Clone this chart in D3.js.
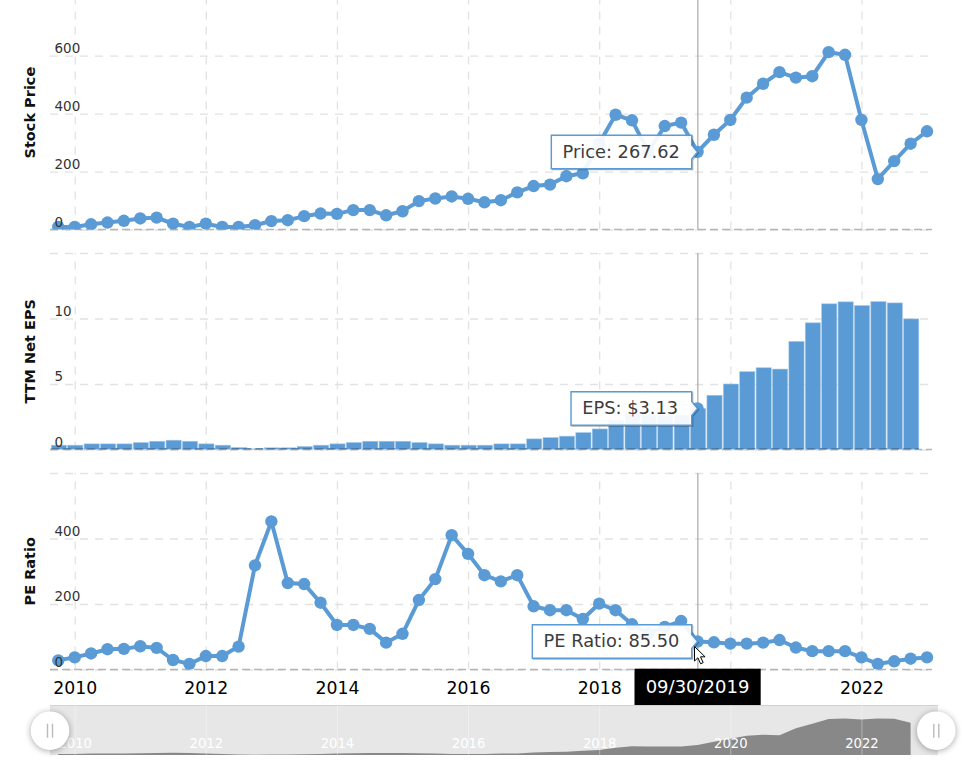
<!DOCTYPE html>
<html>
<head>
<meta charset="utf-8">
<style>
html, body { margin: 0; padding: 0; background: #fff; }
svg { display: block; font-family: "DejaVu Sans", Verdana, sans-serif; }
.grid line { stroke: #e2e2e2; stroke-width: 1.3; stroke-dasharray: 8 7; }
.grid path { display: none; }
.base { stroke: #b5b5b5; stroke-width: 1.3; stroke-dasharray: 8 4; }
</style>
<script src="https://cdnjs.cloudflare.com/ajax/libs/d3/7.8.5/d3.min.js"></script>
</head>
<body>
<div id="chart"></div>
<script>
let price = [9, 9, 18, 24, 30, 38, 41, 20, 9, 20, 9, 9, 15, 29, 32, 46, 55, 54, 67, 67, 49, 63, 98, 107, 114, 106,
    94, 101, 128, 150, 155, 184, 194, 297, 396, 377, 268, 357, 369, 267.62, 327, 378, 455, 503, 543, 524, 529, 612, 603, 378, 174, 236, 296, 339];
let eps = [0.33, 0.33, 0.43, 0.43, 0.43, 0.53, 0.63, 0.71, 0.63, 0.43, 0.33, 0.15, 0.05, 0.13, 0.13, 0.23, 0.33, 0.43, 0.53, 0.63, 0.63, 0.63, 0.53, 0.43, 0.33, 0.33,
    0.33, 0.43, 0.43, 0.81, 0.91, 1.02, 1.29, 1.57, 2.23, 2.74, 2.65, 2.61, 2.61, 3.13, 4.14, 5.0, 5.94, 6.24, 6.14, 8.25, 9.67, 11.12, 11.27, 10.99, 11.29, 11.19, 9.97];
let pe = [28, 37, 49, 62, 63, 71, 66, 29, 17, 41, 41, 70, 318, 452, 264, 261, 204, 136, 136, 124, 82, 109, 212, 276, 410, 353,
    288, 269, 288, 193, 181, 181, 154, 201, 181, 138, 110, 130, 148, 85.5, 83, 79, 79, 82, 90, 67, 56, 56, 56, 37, 17, 25, 33, 37];
let years = [2010, 2012, 2014, 2016, 2018, 2020, 2022];
let yearIndex = [1, 9, 17, 25, 33, 41, 49];
let priceTicks = [0, 200, 400, 600, 800];
let epsTicks = [0, 5, 10, 15];
let peTicks = [0, 200, 400, 600];
let selected = 39;
let selectedDate = "09/30/2019";

let blue = "#5b9bd5";
let width = 966, height = 765;
let left = 50, right = 932;

let svg = d3.select("#chart").append("svg")
    .attr("width", width)
    .attr("height", height);

let x = d3.scaleLinear().domain([0, 53]).range([58.3, 927]);
let defs = svg.append("defs");

function panel(name, top, bottom, domain, ticks, title) {
    let y = d3.scaleLinear().domain(domain).range([bottom, top]);
    let g = svg.append("g").attr("class", "panel");

    defs.append("clipPath").attr("id", "clip-" + name)
        .append("rect")
        .attr("x", 0).attr("y", top)
        .attr("width", width).attr("height", bottom - top);

    //vertical grid
    g.append("g")
        .attr("class", "grid")
        .attr("transform", "translate(0," + bottom + ")")
        .call(d3.axisBottom(x).tickValues(yearIndex).tickSize(bottom - top).tickSizeOuter(0).tickFormat(""))
        .selectAll("line").attr("y2", top - bottom);

    //horizontal grid
    let yAxis = g.append("g")
        .attr("class", "grid")
        .attr("transform", "translate(" + left + ",0)")
        .call(d3.axisRight(y).tickValues(ticks).tickSize(right - left).tickFormat(""));
    yAxis.selectAll("text").remove();

    g.append("line")
        .attr("class", "base")
        .attr("x1", left).attr("x2", right)
        .attr("y1", bottom).attr("y2", bottom);

    //crosshair
    g.append("line")
        .attr("x1", x(selected) + 0.3).attr("x2", x(selected) + 0.3)
        .attr("y1", top).attr("y2", bottom)
        .attr("stroke", "#aaa")
        .attr("stroke-width", 1.2);

    let marks = g.append("g").attr("clip-path", "url(#clip-" + name + ")");

    //y labels, raised above the marks later
    let labels = svg.append("g").attr("class", "labels");
    labels.selectAll("text")
        .data(ticks.filter(function (d) { return y(d) > top + 20; }))
        .enter().append("text")
        .attr("x", 54.5)
        .attr("y", function (d) { return y(d) - 3; })
        .attr("font-size", 13.5)
        .attr("fill", "#333")
        .text(function (d) { return d; });

    svg.append("text")
        .attr("transform", "translate(35," + ((top + bottom) / 2 - (name == "price" ? 1 : 0)) + ") rotate(-90)")
        .attr("text-anchor", "middle")
        .attr("font-size", 14.5)
        .attr("font-weight", "bold")
        .attr("fill", "#111")
        .text(title);

    return {y: y, marks: marks, bottom: bottom};
}

function renderLine(p, data) {
    let line = d3.line()
        .x(function (d, i) { return x(i); })
        .y(function (d) { return p.y(d); });

    p.marks.append("path")
        .datum(data)
        .attr("d", line)
        .attr("fill", "none")
        .attr("stroke", blue)
        .attr("stroke-width", 4);

    p.marks.selectAll("circle")
        .data(data)
        .enter().append("circle")
        .attr("cx", function (d, i) { return x(i); })
        .attr("cy", function (d) { return p.y(d); })
        .attr("r", 6.2)
        .attr("fill", blue);
}

function renderBars(p, data) {
    let w = x(1) - x(0) - 1.2;
    p.marks.selectAll("rect")
        .data(data)
        .enter().append("rect")
        .attr("x", function (d, i) { return x(i) - w / 2 + 0.6; })
        .attr("y", function (d) { return p.y(d); })
        .attr("width", w)
        .attr("height", function (d) { return p.bottom - p.y(d); })
        .attr("fill", blue)
        .attr("stroke", "#a5c8e8")
        .attr("stroke-width", 0.6);

    //the baseline shows darker only across the bars
    p.marks.append("line")
        .attr("class", "base")
        .attr("x1", x(0) - w / 2 + 0.6).attr("x2", x(data.length - 1) + w / 2 + 0.6)
        .attr("y1", p.bottom - 0.5).attr("y2", p.bottom - 0.5)
        .style("stroke", "#4a6f96");

    p.marks.append("circle")
        .attr("cx", x(selected))
        .attr("cy", p.y(data[selected]))
        .attr("r", 6.2)
        .attr("fill", blue);
}

function renderTip(yPos, boxWidth, label) {
    let boxRight = 691.7, boxLeft = boxRight - boxWidth, h = 33.5;
    let t = yPos - h / 2, b = yPos + h / 2, tipX = x(selected);
    let d = "M" + boxLeft + "," + t + "H" + boxRight + "V" + (yPos - 7) + "L" + tipX + "," + yPos
        + "L" + boxRight + "," + (yPos + 7) + "V" + b + "H" + boxLeft + "Z";
    let g = svg.append("g").attr("class", "tip");

    //shadow
    g.append("path")
        .attr("d", d)
        .attr("transform", "translate(1,1)")
        .attr("fill", "none")
        .attr("stroke", "#000")
        .attr("stroke-opacity", 0.3)
        .attr("stroke-width", 1.2);

    g.append("path")
        .attr("d", d)
        .attr("fill", "#fff")
        .attr("fill-opacity", 0.92)
        .attr("stroke", blue)
        .attr("stroke-width", 1.4);

    g.append("text")
        .attr("x", boxLeft + 11.3)
        .attr("y", yPos + 6)
        .attr("font-size", 17.8)
        .attr("fill", "#3c3c3c")
        .text(label);
}

let pricePanel = panel("price", -2.3, 229.5, [0, 800], priceTicks, "Stock Price");
let epsPanel = panel("eps", 253, 449.5, [0, 15], epsTicks, "TTM Net EPS");
let pePanel = panel("pe", 473, 669.5, [0, 600], peTicks, "PE Ratio");

renderLine(pricePanel, price);
renderBars(epsPanel, eps);
renderLine(pePanel, pe);
svg.selectAll("g.labels").raise();

renderTip(pricePanel.y(price[selected]), 140.4, "Price: " + price[selected].toFixed(2));
renderTip(epsPanel.y(eps[selected]), 120.7, "EPS: $" + eps[selected].toFixed(2));
renderTip(pePanel.y(pe[selected]), 159.4, "PE Ratio: " + pe[selected].toFixed(2));

//bottom year axis, 2020 sits behind the date box so it gets no label here
let xAxis = svg.append("g")
    .attr("transform", "translate(0,669.5)")
    .call(d3.axisBottom(x).tickValues(yearIndex).tickSize(0).tickPadding(12)
        .tickFormat(function (d, i) { return years[i] == 2020 ? "" : years[i]; }));
xAxis.select("path").remove();
xAxis.selectAll("text")
    .attr("font-family", "DejaVu Sans")
    .attr("font-size", 17.3)
    .attr("fill", "#000");

//selected date box
svg.append("rect")
    .attr("x", 634.5).attr("y", 668.7)
    .attr("width", 126.2).attr("height", 36.3)
    .attr("fill", "#000");
svg.append("text")
    .attr("x", x(selected)).attr("y", 693)
    .attr("text-anchor", "middle")
    .attr("font-size", 18)
    .attr("fill", "#fff")
    .text(selectedDate);

//navigator
let navTop = 705, navBottom = 755, navLeft = 50, navRight = 938;
svg.append("rect")
    .attr("x", navLeft).attr("y", navTop)
    .attr("width", navRight - navLeft).attr("height", navBottom - navTop)
    .attr("fill", "#e7e7e7");
svg.append("line")
    .attr("x1", navLeft).attr("x2", navRight)
    .attr("y1", navTop + 0.5).attr("y2", navTop + 0.5)
    .attr("stroke", "#d2d2d2");

let navY = d3.scaleLinear().domain([0, 11.3]).range([navBottom, 718.5]);
let navArea = d3.area()
    .x(function (d, i) { return x(i); })
    .y0(navBottom)
    .y1(function (d) { return navY(d); });
svg.append("path")
    .datum(eps)
    .attr("d", navArea)
    .attr("fill", "#888");

let navAxis = svg.append("g")
    .attr("transform", "translate(0," + navTop + ")")
    .call(d3.axisBottom(x).tickValues(yearIndex).tickSize(navBottom - navTop)
        .tickFormat(function (d, i) { return years[i]; }));
navAxis.select("path").remove();
navAxis.selectAll("line").attr("stroke", "#fff").attr("stroke-opacity", 0.35);
navAxis.selectAll("text")
    .attr("font-family", "DejaVu Sans")
    .attr("font-size", 13.2)
    .attr("fill", "#fff")
    .attr("y", 43)
    .attr("dy", 0);

let handles = svg.selectAll("g.handle")
    .data([50, 936.3])
    .enter().append("g")
    .attr("class", "handle")
    .attr("transform", function (d) { return "translate(" + d + ",730.7)"; });
handles.append("circle")
    .attr("r", 19.3)
    .attr("fill", "#fff")
    .style("filter", "drop-shadow(0 1px 3px rgba(0,0,0,0.35))");
handles.selectAll("line")
    .data([-2.5, 2.5])
    .enter().append("line")
    .attr("x1", function (d) { return d; }).attr("x2", function (d) { return d; })
    .attr("y1", -7).attr("y2", 7)
    .attr("stroke", "#bbb")
    .attr("stroke-width", 1.4);

//mouse pointer
svg.append("path")
    .attr("d", "M694.5,646.5v14.5l3.4,-3.2l2.7,6l2.6,-1.2l-2.7,-5.8h4.6z")
    .attr("fill", "#fff")
    .attr("stroke", "#000")
    .attr("stroke-width", 1);
</script>
</body>
</html>
